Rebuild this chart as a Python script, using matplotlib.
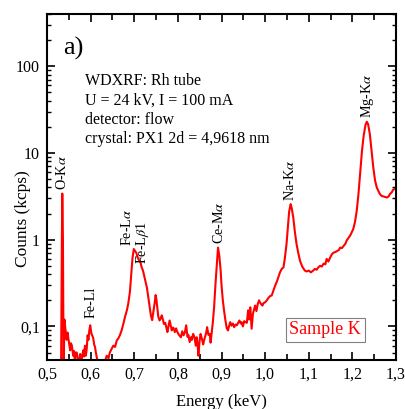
import numpy as np
import matplotlib
matplotlib.use("Agg")
import matplotlib.pyplot as plt
from matplotlib.ticker import FixedLocator, MultipleLocator, LogLocator, NullFormatter

plt.rcParams['font.family'] = ['Liberation Serif', 'DejaVu Serif']
plt.rcParams['mathtext.fontset'] = 'stix'

# spectrum: energy (keV), counts (kcps)
energy = [0.532, 0.534, 0.535, 0.5365, 0.538, 0.540, 0.542, 0.545, 0.547, 0.549, 0.551, 0.553,
          0.555, 0.557, 0.560, 0.562, 0.564, 0.566, 0.568, 0.571, 0.574, 0.576, 0.579, 0.583,
          0.585, 0.587, 0.589, 0.591, 0.593, 0.595, 0.597, 0.599, 0.601, 0.602, 0.604, 0.606,
          0.608, 0.610, 0.612, 0.614, 0.618, 0.621, 0.625, 0.629, 0.633, 0.637, 0.641, 0.644,
          0.648, 0.652, 0.656, 0.660, 0.663, 0.667, 0.671, 0.675, 0.679, 0.683, 0.686, 0.690,
          0.693, 0.696, 0.699, 0.702, 0.705, 0.708, 0.711, 0.714, 0.717, 0.720, 0.723, 0.726,
          0.729, 0.732, 0.735, 0.738, 0.741, 0.744, 0.747, 0.749, 0.751, 0.753, 0.755, 0.758,
          0.761, 0.763, 0.766, 0.768, 0.771, 0.774, 0.776, 0.778, 0.781, 0.784, 0.786, 0.789,
          0.791, 0.793, 0.796, 0.798, 0.801, 0.804, 0.807, 0.810, 0.813, 0.816, 0.819, 0.822,
          0.824, 0.827, 0.830, 0.832, 0.835, 0.838, 0.841, 0.843, 0.845, 0.847, 0.850, 0.852,
          0.855, 0.858, 0.860, 0.862, 0.865, 0.867, 0.870, 0.873, 0.875, 0.878, 0.880, 0.883,
          0.886, 0.889, 0.892, 0.895, 0.898, 0.900, 0.903, 0.906, 0.909, 0.912, 0.915, 0.917,
          0.920, 0.923, 0.926, 0.929, 0.932, 0.935, 0.938, 0.941, 0.944, 0.946, 0.949, 0.952,
          0.955, 0.958, 0.961, 0.963, 0.966, 0.969, 0.972, 0.975, 0.977, 0.980, 0.983, 0.986,
          0.988, 0.991, 0.994, 0.996, 1.000, 1.004, 1.008, 1.012, 1.015, 1.019, 1.023, 1.027,
          1.031, 1.034, 1.038, 1.042, 1.045, 1.049, 1.052, 1.055, 1.0585, 1.061, 1.0645, 1.068,
          1.072, 1.076, 1.080, 1.085, 1.091, 1.095, 1.100, 1.105, 1.110, 1.114, 1.118, 1.122,
          1.126, 1.130, 1.134, 1.138, 1.141, 1.145, 1.149, 1.153, 1.157, 1.161, 1.165, 1.169,
          1.172, 1.176, 1.180, 1.184, 1.187, 1.191, 1.195, 1.198, 1.202, 1.206, 1.210, 1.214,
          1.218, 1.222, 1.226, 1.230, 1.233, 1.236, 1.240, 1.244, 1.248, 1.252, 1.256, 1.260,
          1.263, 1.267, 1.271, 1.275, 1.279, 1.283, 1.286, 1.290, 1.294, 1.300]
counts = [0.02, 0.9, 3.4, 1.0, 0.03, 0.12, 0.095, 0.07, 0.085, 0.073, 0.062, 0.053,
          0.064, 0.06, 0.046, 0.052, 0.038, 0.05, 0.05, 0.042, 0.036, 0.048, 0.04, 0.053,
          0.045, 0.06, 0.046, 0.055, 0.079, 0.07, 0.09, 0.103, 0.088, 0.082, 0.078, 0.073,
          0.062, 0.058, 0.05, 0.044, 0.035, 0.032, 0.03, 0.033, 0.04, 0.046, 0.043, 0.05,
          0.055, 0.06, 0.058, 0.069, 0.072, 0.079, 0.09, 0.107, 0.13, 0.153, 0.18, 0.25,
          0.4, 0.62, 0.78, 0.74, 0.7, 0.62, 0.58, 0.55, 0.48, 0.44, 0.38, 0.33,
          0.28, 0.22, 0.17, 0.135, 0.118, 0.15, 0.19, 0.23, 0.2, 0.16, 0.13, 0.117,
          0.125, 0.134, 0.118, 0.107, 0.11, 0.095, 0.086, 0.098, 0.117, 0.1, 0.09, 0.097,
          0.093, 0.086, 0.095, 0.088, 0.082, 0.078, 0.075, 0.088, 0.079, 0.085, 0.103, 0.076,
          0.08, 0.066, 0.075, 0.07, 0.082, 0.075, 0.06, 0.075, 0.063, 0.046, 0.07, 0.082,
          0.072, 0.062, 0.069, 0.075, 0.085, 0.098, 0.08, 0.082, 0.065, 0.09, 0.11, 0.166,
          0.3, 0.5, 0.81, 0.65, 0.44, 0.3, 0.2, 0.15, 0.117, 0.095, 0.09, 0.1,
          0.112, 0.102, 0.108, 0.098, 0.105, 0.103, 0.11, 0.117, 0.108, 0.112, 0.1, 0.115,
          0.112, 0.11, 0.153, 0.12, 0.166, 0.094, 0.14, 0.16, 0.174, 0.15, 0.18, 0.2,
          0.19, 0.18, 0.174, 0.185, 0.19, 0.2, 0.215, 0.225, 0.227, 0.26, 0.296, 0.33,
          0.38, 0.42, 0.46, 0.48, 0.6, 0.89, 1.35, 2.1, 2.57, 2.3, 1.8, 1.25,
          0.89, 0.7, 0.57, 0.49, 0.44, 0.43, 0.44, 0.42, 0.44, 0.46, 0.45, 0.48,
          0.5, 0.49, 0.53, 0.52, 0.6, 0.56, 0.62, 0.68, 0.71, 0.72, 0.74, 0.76,
          0.81, 0.8, 0.85, 0.9, 0.98, 1.05, 1.12, 1.2, 1.33, 1.6, 2.16, 3.4,
          6.0, 10.6, 16.0, 21.0, 22.9, 21.5, 16.5, 10.5, 6.75, 4.8, 3.98, 3.6,
          3.36, 3.2, 3.15, 3.1, 3.06, 3.15, 3.36, 3.5, 3.8, 3.9]

peak_labels = ["O-K$\\alpha$", "Fe-Ll", "Fe-L$\\alpha$", "Fe-L$\\beta$1", "Ce-M$\\alpha$", "Na-K$\\alpha$", "Mg-K$\\alpha$"]
peak_energy = [0.535, 0.601, 0.684, 0.720, 0.895, 1.057, 1.2335]
peak_height = [3.7, 0.124, 0.85, 0.53, 0.9, 2.8, 25.0]

info_lines = ["WDXRF: Rh tube", "U = 24 kV, I = 100 mA", "detector: flow", "crystal: PX1 2d = 4,9618 nm"]

fig = plt.figure(figsize=(4.06, 4.09), dpi=100)
ax = fig.add_axes([0.1158, 0.1198, 0.8596, 0.846])
ax.plot(energy, counts, color='red', lw=1.5)

ax.set_yscale('log')
ax.set_xlim(0.5, 1.3)
ax.set_ylim(0.041, 400)

ax.xaxis.set_major_locator(MultipleLocator(0.1))
ax.xaxis.set_minor_locator(MultipleLocator(0.05))
ax.xaxis.set_major_formatter(plt.FuncFormatter(lambda v, p: f"{v:.1f}".replace('.', ',')))
ax.yaxis.set_major_locator(FixedLocator([0.1, 1, 10, 100]))
ax.yaxis.set_major_formatter(plt.FuncFormatter(lambda v, p: {0.1: "0,1", 1: "1", 10: "10", 100: "100"}.get(round(v, 1), "")))
ax.yaxis.set_minor_locator(LogLocator(base=10, subs=np.arange(2, 10)))
ax.yaxis.set_minor_formatter(NullFormatter())

ax.tick_params(which='both', direction='in', top=True, right=True, labelsize=11.5, width=1.2)
ax.tick_params(which='major', length=6, pad=5)
ax.tick_params(axis='x', which='minor', length=4, width=1.2)
ax.tick_params(axis='y', which='minor', length=3, width=1)
for s in ax.spines.values():
    s.set_linewidth(1.5)

ax.set_xlabel("Energy (keV)", fontsize=12)
ax.xaxis.set_label_coords(0.5, -0.097)
ax.set_ylabel("Counts (kcps)", fontsize=12.5)
ax.yaxis.set_label_coords(-0.045, 0.41)

ax.text(0.045, 0.9, "a)", transform=ax.transAxes, fontsize=19, va='center')
for i, line in enumerate(info_lines):
    ax.text(0.109, 0.805 - i * 0.055, line, transform=ax.transAxes, fontsize=11.5, va='center')

for lab, e, h in zip(peak_labels, peak_energy, peak_height):
    ax.text(e, h, lab, rotation=90, ha='center', va='bottom', fontsize=10.2)

ax.text(0.9, 0.087, "Sample K", transform=ax.transAxes, ha='right', va='center', fontsize=13,
        color='red', bbox=dict(boxstyle='square,pad=0.2', fc='white', ec='gray', lw=0.8))

fig.savefig("out.png", dpi=100)
